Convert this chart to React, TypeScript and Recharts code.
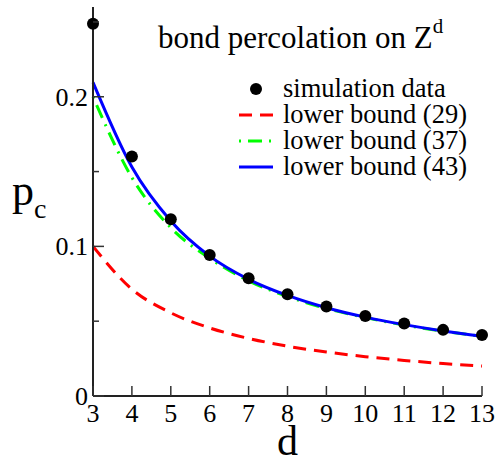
import React from 'react';
import { ComposedChart, Line, XAxis, YAxis, Legend } from 'recharts';

const dims = [3, 4, 5, 6, 7, 8, 9, 10, 11, 12, 13];
const simulation = [0.2488, 0.1601, 0.1182, 0.0942, 0.0787, 0.068, 0.0598, 0.0535, 0.0484, 0.0442, 0.0407];
const bound29 = [0.1, 0.0714, 0.0556, 0.0455, 0.0385, 0.0333, 0.0294, 0.0263, 0.0238, 0.0217, 0.02];
const bound37 = [0.2, 0.146, 0.1125, 0.092, 0.077, 0.0665, 0.0585, 0.0524, 0.0474, 0.0433, 0.0399];
const bound43 = [0.2096, 0.153, 0.117, 0.0935, 0.078, 0.0672, 0.059, 0.0527, 0.0477, 0.0435, 0.04];
const xTicks = [3, 4, 5, 6, 7, 8, 9, 10, 11, 12, 13];
const yTicks = [0, 0.05, 0.1, 0.15, 0.2, 0.25];
const yLabelTicks = [0, 0.1, 0.2];
const titleText = 'bond percolation on Z';
const titleSup = 'd';

const data = dims.map((d, i) => ({
  d,
  sim: simulation[i],
  b29: bound29[i],
  b37: bound37[i],
  b43: bound43[i],
}));

const FONT = "'Liberation Serif', 'DejaVu Serif', serif";
const TICK_COLOR = '#333';
const FRAME = '#222';
const txt = (size: number): React.CSSProperties => ({ fontFamily: FONT, fontSize: size });

const isMajorY = (v: number) => yLabelTicks.some((t) => Math.abs(t - v) < 1e-9);

const LeftTick = (p: any) => {
  const v = p.payload.value;
  const ax = p.x + 5;
  const major = isMajorY(v);
  return (
    <g>
      <line x1={ax} x2={ax + (major ? 11 : 6)} y1={p.y} y2={p.y} stroke={TICK_COLOR} strokeWidth={1.5} />
      {major && (
        <text x={p.x} y={p.y} dy={9} textAnchor="end" style={txt(26)} fill="#000">
          {String(v)}
        </text>
      )}
    </g>
  );
};

const RightTick = (p: any) => {
  const v = p.payload.value;
  const ax = p.x - 5;
  const major = isMajorY(v);
  return <line x1={ax} x2={ax - (major ? 11 : 6)} y1={p.y} y2={p.y} stroke={TICK_COLOR} strokeWidth={1.5} />;
};

const BottomTick = (p: any) => {
  const v = p.payload.value;
  const ay = p.y;
  return (
    <g>
      <line x1={p.x} x2={p.x} y1={ay} y2={ay - 10} stroke={TICK_COLOR} strokeWidth={1.5} />
      <text x={p.x} y={ay + 26} textAnchor="middle" style={txt(26)} fill="#000">
        {String(v)}
      </text>
    </g>
  );
};

const TopTick = (p: any) => {
  const ay = p.y;
  return <line x1={p.x} x2={p.x} y1={ay} y2={ay + 11} stroke={TICK_COLOR} strokeWidth={1.5} />;
};

const XLabel = (p: any) => {
  const vb = p.viewBox || { x: 0, y: 0, width: 0, height: 0 };
  return (
    <text x={vb.x + vb.width / 2} y={vb.y + 59} textAnchor="middle" style={txt(42)} fill="#000">
      d
    </text>
  );
};

const YLabel = (p: any) => {
  const vb = p.viewBox || { x: 0, y: 0, width: 0, height: 0 };
  const cy = vb.y + vb.height / 2;
  return (
    <text x={vb.x + 12} y={cy + 3} style={txt(44)} fill="#000">
      p
      <tspan style={{ fontSize: 28 }} dy={13}>c</tspan>
    </text>
  );
};

const LegendBox = (props: any) => {
  const payload = (props.payload || []) as any[];
  const rowY0 = 97;
  const rowStep = 26;
  return (
    <svg width={496} height={462} style={{ position: 'absolute', left: 0, top: 0, overflow: 'visible' }}>
      <text x={158} y={48} style={txt(31)} fill="#000">
        {titleText}
        <tspan style={{ fontSize: 21 }} dy={-15}>{titleSup}</tspan>
      </text>
      {payload.map((entry: any, i: number) => {
        const by = rowY0 + i * rowStep;
        const sy = by - 8;
        const isDots = entry.dataKey === 'sim';
        const dash = entry.payload && entry.payload.strokeDasharray;
        return (
          <g key={String(entry.dataKey)}>
            {isDots ? (
              <circle cx={256} cy={sy} r={6} fill="#000" />
            ) : (
              <line x1={239} x2={273} y1={sy} y2={sy} stroke={entry.color} strokeWidth={3} strokeDasharray={dash} />
            )}
            <text x={283} y={by} style={txt(26.5)} fill="#000">
              {entry.value}
            </text>
          </g>
        );
      })}
    </svg>
  );
};

export default function App() {
  return (
    <div style={{ position: 'absolute', left: 0, top: 0, width: 496, height: 462, background: '#fff' }}>
      <ComposedChart width={496} height={462} data={data} margin={{ top: 7, right: 14, bottom: 0, left: 0 }}>
        <XAxis
          xAxisId="b"
          dataKey="d"
          type="number"
          domain={[3, 13]}
          ticks={xTicks}
          orientation="bottom"
          height={66}
          tickLine={false}
          tickSize={0}
          tickMargin={0}
          axisLine={{ stroke: FRAME, strokeWidth: 2 }}
          tick={BottomTick}
          interval={0}
          label={<XLabel />}
        />
        <XAxis
          xAxisId="t"
          dataKey="d"
          type="number"
          domain={[3, 13]}
          ticks={xTicks}
          orientation="top"
          height={0}
          tickLine={false}
          tickSize={0}
          tickMargin={0}
          axisLine={{ stroke: FRAME, strokeWidth: 2 }}
          tick={TopTick}
          interval={0}
        />
        <YAxis
          yAxisId="l"
          type="number"
          domain={[0, 0.26]}
          ticks={yTicks}
          orientation="left"
          width={93}
          tickLine={false}
          tickSize={0}
          tickMargin={5}
          axisLine={{ stroke: FRAME, strokeWidth: 2 }}
          tick={LeftTick}
          interval={0}
          label={<YLabel />}
        />
        <YAxis
          yAxisId="r"
          type="number"
          domain={[0, 0.26]}
          ticks={yTicks}
          orientation="right"
          width={0}
          tickLine={false}
          tickSize={0}
          tickMargin={5}
          axisLine={{ stroke: FRAME, strokeWidth: 2 }}
          tick={RightTick}
          interval={0}
        />
        <Line
          xAxisId="b"
          yAxisId="l"
          dataKey="b29"
          name="lower bound (29)"
          type="monotone"
          stroke="#ff0000"
          strokeWidth={3}
          strokeDasharray="13 8"
          dot={false}
          isAnimationActive={false}
        />
        <Line
          xAxisId="b"
          yAxisId="l"
          dataKey="b37"
          name="lower bound (37)"
          type="monotone"
          stroke="#00ff00"
          strokeWidth={3}
          strokeDasharray="2 7 14 7"
          dot={false}
          isAnimationActive={false}
        />
        <Line
          xAxisId="b"
          yAxisId="l"
          dataKey="b43"
          name="lower bound (43)"
          type="monotone"
          stroke="#0000ff"
          strokeWidth={3}
          dot={false}
          isAnimationActive={false}
        />
        <Line
          xAxisId="b"
          yAxisId="l"
          dataKey="sim"
          name="simulation data"
          stroke="none"
          strokeWidth={0}
          dot={{ r: 6, fill: '#000', stroke: 'none' }}
          isAnimationActive={false}
        />
        <Legend
          layout="vertical"
          align="center"
          verticalAlign="middle"
          itemSorter={(item: any) => ['sim', 'b29', 'b37', 'b43'].indexOf(String(item.dataKey))}
          wrapperStyle={{ left: 0, top: 0, width: 496, height: 462, pointerEvents: 'none' }}
          content={LegendBox}
        />
      </ComposedChart>
    </div>
  );
}
